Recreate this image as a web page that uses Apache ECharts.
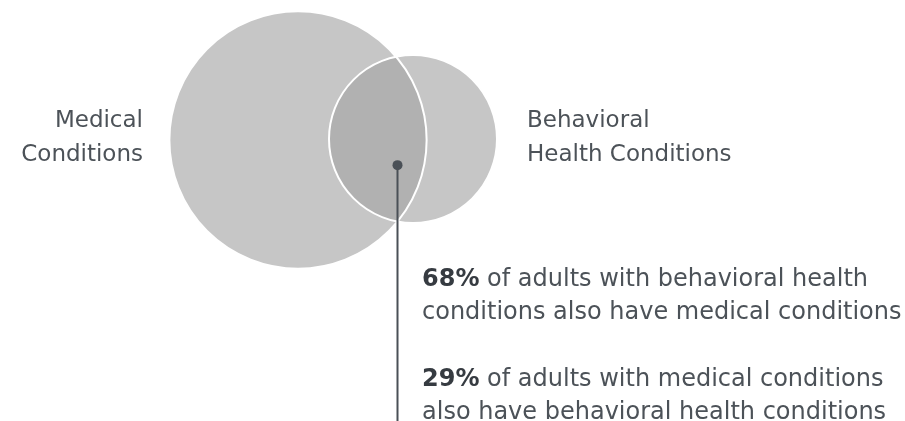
<!DOCTYPE html>
<html>
<head>
<meta charset="utf-8">
<script src="https://cdn.jsdelivr.net/npm/echarts@6/dist/echarts.min.js"></script>
<style>
  html, body { margin: 0; padding: 0; background: #ffffff; }
  #chart { width: 905px; height: 421px; }
</style>
</head>
<body>
<div id="chart"></div>
<script>
// Two groups of adults and the share of each group that also belongs to the other
const groupLabels = ['Medical\nConditions', 'Behavioral\nHealth Conditions'];
const alsoHavePct = [29, 68]; // [medical -> also behavioral, behavioral -> also medical]

// Layout (chart units = pixels on a hidden 905 x 421 grid)
const FONT = '"DejaVu Sans", sans-serif';
const TEXT = '#4c5258';
const TEXT_BOLD = '#363b41';
const CIRCLE = '#c6c6c6';
const OVERLAP = '#b1b1b1';
const POINTER = '#4a5057';
const baseRadius = 84;               // radius of the behavioral health circle
const centers = [[298, 140], [413, 139]];

// Circle areas are inversely proportional to the share that overlaps:
// overlap = pct_med * |Med| = pct_bh * |BH|  ->  |Med| / |BH| = pct_bh / pct_med
const radii = [
  baseRadius * Math.sqrt(alsoHavePct[1] / alsoHavePct[0]),
  baseRadius
];

const circleData = groupLabels.map((name, i) => ({
  name: name.replace('\n', ' '),
  value: [centers[i][0], centers[i][1], radii[i]]
}));

function circlePx(api, v) {
  const c = api.coord([v[0], v[1]]);
  const r = api.size([v[2], 0])[0];
  return { cx: c[0], cy: c[1], r: r };
}

function lensGeometry(api) {
  const A = circlePx(api, circleData[0].value);
  const B = circlePx(api, circleData[1].value);
  const dx = B.cx - A.cx, dy = B.cy - A.cy;
  const d = Math.hypot(dx, dy);
  const a = (A.r * A.r - B.r * B.r + d * d) / (2 * d);
  const h = Math.sqrt(A.r * A.r - a * a);
  const px = A.cx + a * dx / d, py = A.cy + a * dy / d;
  const top = [px + h * dy / d, py - h * dx / d];
  const bot = [px - h * dy / d, py + h * dx / d];
  return { A, B, top, bot, px, py };
}

const chart = echarts.init(document.getElementById('chart'), null, { renderer: 'canvas' });

const option = {
  backgroundColor: '#ffffff',
  animation: false,
  grid: { left: 0, right: 0, top: 0, bottom: 0 },
  xAxis: { type: 'value', min: 0, max: 905, show: false },
  yAxis: { type: 'value', min: 0, max: 421, inverse: true, show: false },
  series: [
    {
      // filled circles
      type: 'custom',
      z: 1,
      coordinateSystem: 'cartesian2d',
      data: circleData,
      renderItem: function (params, api) {
        const c = circlePx(api, circleData[params.dataIndex].value);
        return { type: 'circle', shape: c, style: { fill: CIRCLE } };
      }
    },
    {
      // the overlap (lens) and white outlines
      type: 'custom',
      z: 2,
      coordinateSystem: 'cartesian2d',
      data: [[0, 0]],
      renderItem: function (params, api) {
        const g = lensGeometry(api);
        const path = 'M' + g.top[0] + ' ' + g.top[1] +
          ' A' + g.B.r + ' ' + g.B.r + ' 0 0 0 ' + g.bot[0] + ' ' + g.bot[1] +
          ' A' + g.A.r + ' ' + g.A.r + ' 0 0 0 ' + g.top[0] + ' ' + g.top[1] + ' Z';
        return {
          type: 'group',
          children: [
            { type: 'path', shape: { pathData: path }, style: { fill: OVERLAP } },
            { type: 'circle', shape: g.A, style: { fill: 'none', stroke: '#ffffff', lineWidth: 2 } },
            { type: 'circle', shape: g.B, style: { fill: 'none', stroke: '#ffffff', lineWidth: 2 } }
          ]
        };
      }
    },
    {
      // pointer from the overlap down to the annotation
      type: 'custom',
      z: 3,
      coordinateSystem: 'cartesian2d',
      data: [[0, 0]],
      renderItem: function (params, api) {
        const g = lensGeometry(api);
        const x = Math.round(g.px) + 0.5;
        const y = g.py + 26;
        return {
          type: 'group',
          children: [
            { type: 'line', shape: { x1: x, y1: y, x2: x, y2: api.getHeight() + 5 },
              style: { stroke: POINTER, lineWidth: 2 } },
            { type: 'circle', shape: { cx: x, cy: y, r: 5 }, style: { fill: POINTER } }
          ]
        };
      }
    }
  ],
  graphic: [
    {
      type: 'text', x: 143, y: 104, z: 10,
      style: {
        text: groupLabels[0], fill: TEXT, fontSize: 23, fontFamily: FONT,
        align: 'right', textAlign: 'right', verticalAlign: 'top', textVerticalAlign: 'top',
        lineHeight: 34
      }
    },
    {
      type: 'text', x: 527, y: 104, z: 10,
      style: {
        text: groupLabels[1], fill: TEXT, fontSize: 23, fontFamily: FONT,
        align: 'left', textAlign: 'left', verticalAlign: 'top', textVerticalAlign: 'top',
        lineHeight: 34
      }
    },
    {
      type: 'text', x: 422, y: 264, z: 10,
      style: {
        text: '{b|' + alsoHavePct[1] + '%} of adults with behavioral health\nconditions also have medical conditions',
        fill: TEXT, fontSize: 24, fontFamily: FONT, lineHeight: 32.5,
        align: 'left', verticalAlign: 'top',
        rich: { b: { fontWeight: 'bold', fill: TEXT_BOLD, fontSize: 24, fontFamily: FONT, lineHeight: 32.5 } }
      }
    },
    {
      type: 'text', x: 422, y: 364, z: 10,
      style: {
        text: '{b|' + alsoHavePct[0] + '%} of adults with medical conditions\nalso have behavioral health conditions',
        fill: TEXT, fontSize: 24, fontFamily: FONT, lineHeight: 32.5,
        align: 'left', verticalAlign: 'top',
        rich: { b: { fontWeight: 'bold', fill: TEXT_BOLD, fontSize: 24, fontFamily: FONT, lineHeight: 32.5 } }
      }
    }
  ]
};

chart.setOption(option);
</script>
</body>
</html>
